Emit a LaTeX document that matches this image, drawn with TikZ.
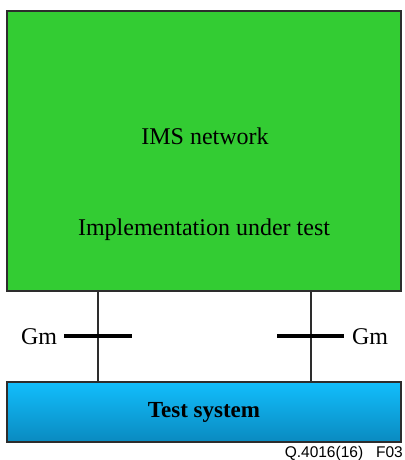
\documentclass[tikz,border=0pt]{standalone}
\usepackage{fontspec}
\setmainfont{Liberation Serif}
\newfontfamily\footfont{Liberation Sans}
\definecolor{imsgreen}{RGB}{51,204,51}
\definecolor{bluetop}{RGB}{18,190,252}
\definecolor{bluebot}{RGB}{10,138,192}
\definecolor{edgegray}{RGB}{45,45,45}
\begin{document}
\begin{tikzpicture}[x=1pt,y=-1pt,
  box/.style={draw=edgegray,line width=1.5pt,inner sep=0pt,minimum width=394pt},
  link/.style={draw=edgegray,line width=1.3pt},
  bar/.style={draw=black,line width=4pt},
  lbl/.style={font=\fontsize{24}{28}\selectfont,inner sep=0pt,anchor=base}]
\useasboundingbox (0,0) rectangle (404,460);
\node[box,fill=imsgreen,minimum height=280pt] (ims) at (204,151) {};
\node[box,top color=bluetop,bottom color=bluebot,minimum height=60pt] (ts) at (204,412) {};
\node[lbl] (t1) at (205,144) {IMS network};
\node[lbl] (t2) at (204,235) {Implementation under test};
\node[lbl,font=\fontsize{23}{27}\selectfont\bfseries] (t3) at (204,417) {Test system};
\coordinate (L) at (98,0);
\coordinate (R) at (311,0);
\draw[link] (ims.south -| L) -- (ts.north -| L);
\draw[link] (ims.south -| R) -- (ts.north -| R);
\coordinate (b1a) at (64,336);
\coordinate (b1b) at (132,336);
\coordinate (b2a) at (277,336);
\coordinate (b2b) at (344,336);
\draw[bar] (b1a) -- (b1b);
\draw[bar] (b2a) -- (b2b);
\node[lbl] (gm1) at (39,344) {Gm};
\node[lbl] (gm2) at (370,344) {Gm};
\node[font=\footfont\fontsize{15.5}{17}\selectfont,inner sep=0pt,anchor=base east] (foot) at (403,457) {Q.4016(16)\ \ \ F03};
\end{tikzpicture}
\end{document}
